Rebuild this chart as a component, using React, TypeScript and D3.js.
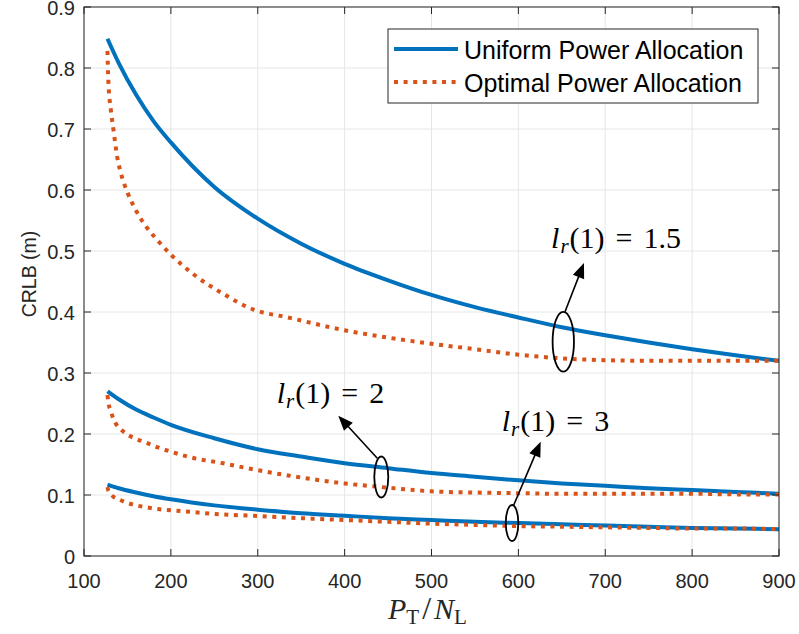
import React from "react";
import * as d3 from "d3";

// ---------- data ----------
const xUniform = [127, 140, 160, 180, 200, 250, 300, 350, 400, 450, 500, 550, 600, 650, 700, 750, 800, 850, 900];
const uniform15 = [0.848, 0.808, 0.756, 0.713, 0.678, 0.605, 0.553, 0.512, 0.479, 0.452, 0.428, 0.408, 0.391, 0.375, 0.362, 0.35, 0.339, 0.329, 0.32];
const uniform2 = [0.27, 0.257, 0.24, 0.227, 0.215, 0.193, 0.175, 0.163, 0.152, 0.144, 0.136, 0.13, 0.124, 0.119, 0.115, 0.111, 0.108, 0.105, 0.102];
const uniform3 = [0.117, 0.111, 0.104, 0.098, 0.093, 0.083, 0.076, 0.07, 0.066, 0.062, 0.059, 0.056, 0.054, 0.052, 0.05, 0.048, 0.046, 0.045, 0.044];

const xOptimal = [127, 128, 131, 134, 138, 143, 150, 160, 171, 185, 200, 225, 260, 295, 335, 400, 450, 500, 550, 600, 650, 700, 750, 800, 850, 900];
const optimal15 = [0.828, 0.78, 0.73, 0.698, 0.656, 0.625, 0.596, 0.566, 0.541, 0.517, 0.494, 0.463, 0.43, 0.404, 0.391, 0.37, 0.358, 0.348, 0.339, 0.33, 0.324, 0.321, 0.32, 0.32, 0.32, 0.32];
const optimal2 = [0.264, 0.252, 0.237, 0.224, 0.214, 0.207, 0.199, 0.192, 0.186, 0.178, 0.171, 0.161, 0.152, 0.142, 0.132, 0.119, 0.112, 0.106, 0.104, 0.103, 0.102, 0.102, 0.102, 0.102, 0.101, 0.101];
const optimal3 = [0.113, 0.107, 0.101, 0.097, 0.094, 0.091, 0.087, 0.083, 0.08, 0.077, 0.075, 0.072, 0.068, 0.066, 0.063, 0.059, 0.056, 0.053, 0.051, 0.049, 0.048, 0.047, 0.046, 0.045, 0.045, 0.044];

const xTicks = [100, 200, 300, 400, 500, 600, 700, 800, 900];
const yTicks = [0, 0.1, 0.2, 0.3, 0.4, 0.5, 0.6, 0.7, 0.8, 0.9];
const yTickLabels = ["0", "0.1", "0.2", "0.3", "0.4", "0.5", "0.6", "0.7", "0.8", "0.9"];

const legendLabels = ["Uniform Power Allocation", "Optimal Power Allocation"];

// annotations (data units)
const annotations = [
  { label: "1.5", cx: 651.7, cy: 0.3513, rx: 12.3, ry: 0.049, ax0: 653.7, ay0: 0.4005, ax1: 675.5, ay1: 0.4803, tx: 637.6, ty: 0.5049 },
  { label: "2", cx: 442.2, cy: 0.1295, rx: 8.06, ry: 0.0336, ax0: 437.6, ay0: 0.1602, ax1: 392.7, ay1: 0.23, tx: 321.8, ty: 0.2503 },
  { label: "3", cx: 592.7, cy: 0.0541, rx: 7.25, ry: 0.0295, ax0: 594.2, ay0: 0.082, ax1: 625.7, ay1: 0.1874, tx: 580.8, ty: 0.2049 },
];

const BLUE = "#0072BD";
const ORANGE = "#D95319";
const AXIS = "#262626";
const GRID = "#e6e6e6";
const SANS = "'Liberation Sans', Arial, Helvetica, sans-serif";
const SERIF = "'Liberation Serif', 'Times New Roman', serif";

const W = 799;
const H = 634;
const L = 84, R = 779, T = 7, B = 556;

export default function App() {
  const x = d3.scaleLinear().domain([100, 900]).range([L, R]);
  const y = d3.scaleLinear().domain([0, 0.9]).range([B, T]);

  const line = d3
    .line<[number, number]>()
    .x((d) => x(d[0]))
    .y((d) => y(d[1]))
    .curve(d3.curveMonotoneX);

  const uSeries = [uniform15, uniform2, uniform3].map((vals) => xUniform.map((xv, i) => [xv, vals[i]] as [number, number]));
  const oSeries = [optimal15, optimal2, optimal3].map((vals) => xOptimal.map((xv, i) => [xv, vals[i]] as [number, number]));

  const tickLen = 7;

  const arrow = (x0: number, y0: number, x1: number, y1: number, key: string) => {
    const dx = x1 - x0, dy = y1 - y0;
    const len = Math.hypot(dx, dy);
    const ux = dx / len, uy = dy / len;
    const hl = 15, hw = 6;
    const bx = x1 - ux * hl, by = y1 - uy * hl;
    const px = -uy, py = ux;
    const pts = `${x1},${y1} ${bx + px * hw},${by + py * hw} ${bx - px * hw},${by - py * hw}`;
    return (
      <g key={key}>
        <line x1={x0} y1={y0} x2={bx + ux * 2} y2={by + uy * 2} stroke="#000" strokeWidth={1.6} />
        <polygon points={pts} fill="#000" />
      </g>
    );
  };

  return (
    <svg width={W} height={H} style={{ position: "absolute", left: 0, top: 0, background: "#fff" }}>
      <rect x={0} y={0} width={W} height={H} fill="#fff" />
      <defs>
        <clipPath id="plot">
          <rect x={L} y={T} width={R - L} height={B - T} />
        </clipPath>
      </defs>
      {/* grid */}
      {xTicks.map((t) => (
        <line key={"gx" + t} x1={x(t)} x2={x(t)} y1={T} y2={B} stroke={GRID} strokeWidth={1} />
      ))}
      {yTicks.map((t) => (
        <line key={"gy" + t} x1={L} x2={R} y1={y(t)} y2={y(t)} stroke={GRID} strokeWidth={1} />
      ))}
      {/* curves */}
      <g clipPath="url(#plot)">
        {uSeries.map((s, i) => (
          <path key={"u" + i} d={line(s) || ""} fill="none" stroke={BLUE} strokeWidth={4} />
        ))}
        {oSeries.map((s, i) => (
          <path key={"o" + i} d={line(s) || ""} fill="none" stroke={ORANGE} strokeWidth={4} strokeDasharray="4 5.6" />
        ))}
      </g>
      {/* axes box */}
      <rect x={L} y={T} width={R - L} height={B - T} fill="none" stroke={AXIS} strokeWidth={1} />
      {xTicks.map((t) => (
        <g key={"tx" + t}>
          <line x1={x(t)} x2={x(t)} y1={B} y2={B - tickLen} stroke={AXIS} />
          <line x1={x(t)} x2={x(t)} y1={T} y2={T + tickLen} stroke={AXIS} />
          <text x={x(t)} y={588} textAnchor="middle" fontFamily={SANS} fontSize={20} fill={AXIS}>
            {t}
          </text>
        </g>
      ))}
      {yTicks.map((t, i) => (
        <g key={"ty" + t}>
          <line x1={L} x2={L + tickLen} y1={y(t)} y2={y(t)} stroke={AXIS} />
          <line x1={R} x2={R - tickLen} y1={y(t)} y2={y(t)} stroke={AXIS} />
          <text x={75} y={y(t) + 8} textAnchor="end" fontFamily={SANS} fontSize={20} fill={AXIS}>
            {yTickLabels[i]}
          </text>
        </g>
      ))}
      {/* axis labels */}
      <text transform="translate(36,274) rotate(-90)" textAnchor="middle" fontFamily={SANS} fontSize={19.5} fill={AXIS}>
        CRLB (m)
      </text>
      <text x={388} y={619} fontFamily={SERIF} fontSize={30} fill={AXIS}>
        <tspan fontStyle="italic">P</tspan>
        <tspan fontSize={21} dy={5}>T</tspan>
        <tspan dy={-5} dx={3} fontSize={32}>/</tspan>
        <tspan fontStyle="italic" dx={3}>N</tspan>
        <tspan fontSize={21} dy={5}>L</tspan>
      </text>
      {/* legend */}
      <rect x={388} y={29} width={370} height={74} fill="#fff" stroke={AXIS} strokeWidth={1} />
      <line x1={394} x2={458} y1={49} y2={49} stroke={BLUE} strokeWidth={4} />
      <line x1={394} x2={458} y1={82} y2={82} stroke={ORANGE} strokeWidth={4} strokeDasharray="4 5.6" />
      <text x={464} y={59} fontFamily={SANS} fontSize={25} fill="#000">
        {legendLabels[0]}
      </text>
      <text x={464} y={92} fontFamily={SANS} fontSize={25} fill="#000">
        {legendLabels[1]}
      </text>
      {/* annotations */}
      {annotations.map((a, i) => (
        <g key={"a" + i}>
          <ellipse
            cx={x(a.cx)}
            cy={y(a.cy)}
            rx={x(a.cx + a.rx) - x(a.cx)}
            ry={y(a.cy) - y(a.cy + a.ry)}
            fill="none"
            stroke="#000"
            strokeWidth={1.8}
          />
          {arrow(x(a.ax0), y(a.ay0), x(a.ax1), y(a.ay1), "ar" + i)}
          <text x={x(a.tx)} y={y(a.ty)} fontFamily={SERIF} fontSize={30} fill="#000">
            <tspan fontStyle="italic">l</tspan>
            <tspan fontStyle="italic" fontSize={21} dy={5} dx={1}>r</tspan>
            <tspan dy={-5} dx={1}>(1)</tspan>
            <tspan dx={11}>=</tspan>
            <tspan dx={11}>{a.label}</tspan>
          </text>
        </g>
      ))}
    </svg>
  );
}
